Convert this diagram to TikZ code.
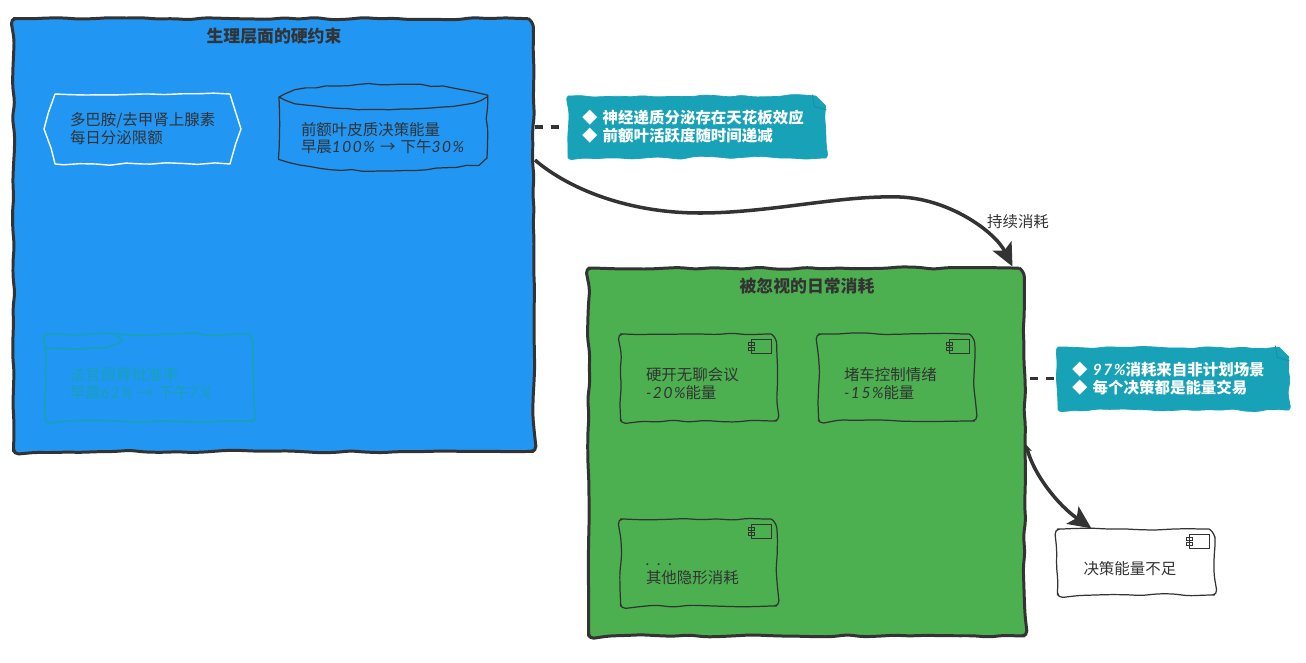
\documentclass[tikz,border=0pt]{standalone}
\usepackage{xcolor}
\usepackage{fontspec}
\usepackage{tikz}
\usetikzlibrary{positioning, shapes.geometric, shapes.symbols, calc, decorations.pathmorphing, arrows.meta}
\setmainfont{Noto Sans CJK SC}
\newfontfamily\handfont[LetterSpace=10]{Lato}
\newcommand{\hand}[1]{{\handfont\itshape #1}}
\definecolor{inkgray}{HTML}{333333}
\definecolor{bioblue}{HTML}{2196F3}
\definecolor{drainGreen}{HTML}{4CAF50}
\definecolor{noteteal}{HTML}{17A2B8}
\definecolor{foldteal}{HTML}{1590A4}
\tikzset{
    rough/.style={decorate, line join=round, decoration={random steps, segment length=9pt, amplitude=0.7pt, pre length=4pt, post length=4pt}},
    framebox/.style={rough, draw=inkgray, line width=1.7pt, rounded corners=3pt},
    frametitle/.style={inkgray, font=\fontsize{9.6}{11}\selectfont\bfseries},
    bodytext/.style={inkgray, font=\fontsize{8.8}{10.2}\selectfont, align=left, inner sep=0pt},
    lowtext/.style={bodytext, execute at begin node={\rule{0pt}{14.5pt}}},
    compbox/.style={lowtext, rough, draw=inkgray, line width=0.7pt, rounded corners=3pt, minimum width=3.12cm, minimum height=1.74cm, text width=2.1cm},
    notebox/.style={rough, decoration={segment length=7pt, amplitude=1pt}, draw=noteteal, fill=noteteal, rounded corners=2pt, text=white, font=\fontsize{8.8}{10.2}\selectfont\bfseries, align=left, inner sep=0pt},
    flow/.style={draw=inkgray, line width=2pt, -{Stealth[length=0.46cm, width=0.42cm, inset=0.1cm]}},
    notelink/.style={draw=inkgray, line width=2.2pt, dash pattern=on 4.5pt off 4.5pt}
}
\begin{document}
\pgfmathsetseed{42}
\begin{tikzpicture}[x=0.02cm, y=-0.02cm]
            \useasboundingbox (0,0) rectangle (1306,663);
            \node[framebox, fill=bioblue, minimum width=10.4cm, minimum height=8.66cm] (bio) at (273.5,235) {};
            \node[frametitle] (biotitle) at (274,36) {生理层面的硬约束};
            \node[bodytext, rough, draw=white, line width=0.8pt, shape=signal, signal to=west and east, signal pointer angle=145, minimum width=3.94cm, minimum height=1.4cm, text width=2.9cm] (quota) at (142.5,129) {多巴胺/去甲肾上腺素\\每日分泌限额};
            \draw[rough, decoration={segment length=6pt, amplitude=0.5pt}, draw=inkgray, line width=0.7pt] (279,97) .. controls (300,80) and (466,80) .. (487,97) -- (487,158) .. controls (466,175) and (300,175) .. (279,158) -- cycle;
            \draw[rough, decoration={segment length=6pt, amplitude=0.4pt}, draw=inkgray, line width=0.7pt] (279,97) .. controls (300,114) and (466,114) .. (487,97);
            \node[bodytext, execute at begin node={\rule{0pt}{19.5pt}}, minimum width=4.16cm, minimum height=1.72cm, text width=3.28cm] (prefrontal) at (383,127.5) {前额叶皮质决策能量\\早晨\hand{100\%} → 下午\hand{30\%}};
            \node[lowtext, rough, draw=noteteal, text=noteteal, line width=0.9pt, rounded corners=3pt, minimum width=4.16cm, minimum height=1.74cm, text width=3.18cm] (parole) at (149.5,377.5) {法官假释批准率\\早晨\hand{62\%} → 下午\hand{7\%}};
            \draw[rough, draw=noteteal, line width=0.9pt] (parole.north west) ++(0,15) -- ++(34,1) -- ++(26,-1) .. controls ++(8,-3) and ++(10,-8) .. ++(10,-15);
            \node[framebox, fill=drainGreen, minimum width=8.72cm, minimum height=7.36cm] (drain) at (806.5,452) {};
            \node[frametitle] (draintitle) at (807,286) {被忽视的日常消耗};
            \node[compbox] (meeting) at (698.5,377.5) {硬开无聊会议\\\hand{-20\%}能量};
            \node[compbox] (traffic) at (896.5,377.5) {堵车控制情绪\\\hand{-15\%}能量};
            \node[compbox] (hidden) at (698.5,562.5) {\hand{. . .}\\其他隐形消耗};
            \node[compbox, fill=white, minimum width=3.14cm, minimum height=1.32cm, text width=2.1cm] (deficit) at (1136,562) {决策能量不足};
            \foreach \c in {meeting,traffic,hidden,deficit} {
                \draw[inkgray, line width=0.6pt, fill=none] ($(\c.north east)+(-26,6)$) rectangle ($(\c.north east)+(-6,20)$);
                \draw[inkgray, line width=0.6pt] ($(\c.north east)+(-29,9)$) rectangle ($(\c.north east)+(-23,12.5)$);
                \draw[inkgray, line width=0.6pt] ($(\c.north east)+(-29,14)$) rectangle ($(\c.north east)+(-23,17.5)$);
            }
            \node[notebox, minimum width=5.16cm, minimum height=1.24cm, text width=4.6cm] (brainnote) at (697,127) {◆\hspace{3pt}神经递质分泌存在天花板效应\\◆\hspace{3pt}前额叶活跃度随时间递减};
            \node[notebox, minimum width=4.62cm, minimum height=1.26cm, text width=4.06cm] (drainnote) at (1173.5,378.5) {◆\hspace{3pt}\hand{97\%}消耗来自非计划场景\\◆\hspace{3pt}每个决策都是能量交易};
            \foreach \n in {brainnote,drainnote} {
                \fill[white] ($(\n.north east)+(-14,-4)$) -- ($(\n.north east)+(4,-4)$) -- ($(\n.north east)+(4,14)$) -- cycle;
                \draw[foldteal, line width=0.5pt] ($(\n.north east)+(-14,-1)$) -- ($(\n.north east)+(-12,11)$) -- ($(\n.north east)+(0,14)$);
            }
            \draw[notelink, shorten >=4pt] (brainnote.west -| bio.east) -- (brainnote.west);
            \draw[notelink] ($(drainnote.west -| drain.east)+(4,0)$) -- (drainnote.west);
            \draw[flow] (bio.16.6) .. controls (570,190) and (630,213) .. (700,213) .. controls (770,213) and (840,195) .. (900,197) .. controls (950,199) and (995,232) .. (drain.42);
            \node[bodytext] (drainlabel) at (1018,222) {持续消耗};
            \draw[flow, {Stealth[length=0.16cm, width=0.16cm]}-{Stealth[length=0.46cm, width=0.42cm, inset=0.1cm]}] (drain.2.5) .. controls (1034,475) and (1058,505) .. (deficit.143);
        \end{tikzpicture}
\end{document}
